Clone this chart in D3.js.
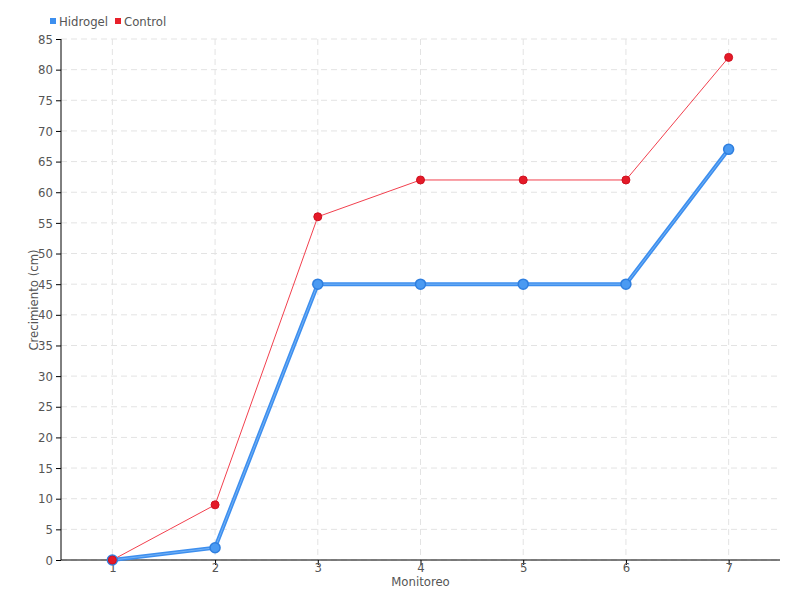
<!DOCTYPE html>
<html><head><meta charset="utf-8">
<script src="https://cdn.jsdelivr.net/npm/d3@7"></script>
<style>
body{margin:0;background:#fff;}
text{font-family:"DejaVu Sans Condensed","DejaVu Sans",sans-serif;}
</style></head>
<body><svg id="c" width="800" height="600"></svg>
<script>
const categories = ["1","2","3","4","5","6","7"];
const hidrogel = [0, 2, 45, 45, 45, 45, 67];
const control = [0, 9, 56, 62, 62, 62, 82];
const yTicks = d3.range(0, 90, 5);
const seriesNames = ["Hidrogel", "Control"];
const colors = ["#3d8fef", "#e8202a"];

const svg = d3.select("#c");
const m = {l:61, r:20, t:39, b:40};
const W = 800, H = 600;
const x = d3.scalePoint().domain(categories).range([m.l, W - m.r]).padding(0.5);
const y = d3.scaleLinear().domain([0, 85]).range([H - m.b, m.t]);

// grid
const g = svg.append("g");
g.selectAll("line.h").data(yTicks).join("line")
  .attr("x1", m.l).attr("x2", W - m.r).attr("y1", d => y(d)).attr("y2", d => y(d))
  .attr("stroke", "#e3e3e3").attr("stroke-dasharray", "6,4");
g.selectAll("line.v").data(categories).join("line")
  .attr("x1", d => x(d)).attr("x2", d => x(d)).attr("y1", m.t).attr("y2", H - m.b)
  .attr("stroke", "#e3e3e3").attr("stroke-dasharray", "6,4");

// axes
const ya = svg.append("g").attr("transform", `translate(${m.l},0)`)
  .call(d3.axisLeft(y).tickValues(yTicks).tickSize(5).tickPadding(3));
ya.select(".domain").attr("stroke", "#000").attr("d", `M0,${m.t}V${H - m.b}`);
ya.selectAll("text").attr("fill", "#555").attr("font-size", 13);
const xa = svg.append("g").attr("transform", `translate(0,${H - m.b})`)
  .call(d3.axisBottom(x).tickSize(5).tickPadding(0));
xa.select(".domain").attr("stroke", "#000").attr("d", `M${m.l},0H${W - m.r}`);
xa.selectAll("text").attr("fill", "#555").attr("font-size", 13).attr("dy", "0.55em");
svg.selectAll(".tick line").attr("stroke", "#000");

// titles
svg.append("text").attr("x", x("4")).attr("y", 586).attr("text-anchor", "middle")
  .attr("fill", "#555").attr("font-size", 13).text("Monitoreo");
svg.append("text").attr("transform", "translate(38,300) rotate(-90)").attr("text-anchor", "middle")
  .attr("fill", "#555").attr("font-size", 13).text("Crecimiento (cm)");

// lines
const line = d3.line().x((d, i) => x(categories[i])).y(d => y(d));
svg.append("path").attr("d", line(hidrogel)).attr("fill", "none").attr("stroke", colors[0]).attr("stroke-width", 4);
svg.append("path").attr("d", line(hidrogel)).attr("fill", "none").attr("stroke", "#8cc0f7").attr("stroke-width", 1).attr("opacity", 0.7);
svg.append("path").attr("d", line(control)).attr("fill", "none").attr("stroke", "#f2404e").attr("stroke-width", 1);

svg.selectAll("circle.h").data(hidrogel).join("circle")
  .attr("cx", (d, i) => x(categories[i])).attr("cy", d => y(d)).attr("r", 5)
  .attr("fill", "#4a9af2").attr("stroke", "#2f7fdf").attr("stroke-width", 1.5);
svg.selectAll("circle.c").data(control).join("circle")
  .attr("cx", (d, i) => x(categories[i])).attr("cy", d => y(d)).attr("r", 4)
  .attr("fill", "#e41a28").attr("stroke", "#d01020").attr("stroke-width", 1);

// legend
const lg = svg.append("g");
const lx = [50, 115];
seriesNames.forEach((s, i) => {
  lg.append("rect").attr("x", lx[i]).attr("y", 18).attr("width", 6).attr("height", 6).attr("fill", colors[i]);
  lg.append("text").attr("x", lx[i] + 9).attr("y", 26).attr("fill", "#555").attr("font-size", 13).text(s);
});
</script></body></html>
